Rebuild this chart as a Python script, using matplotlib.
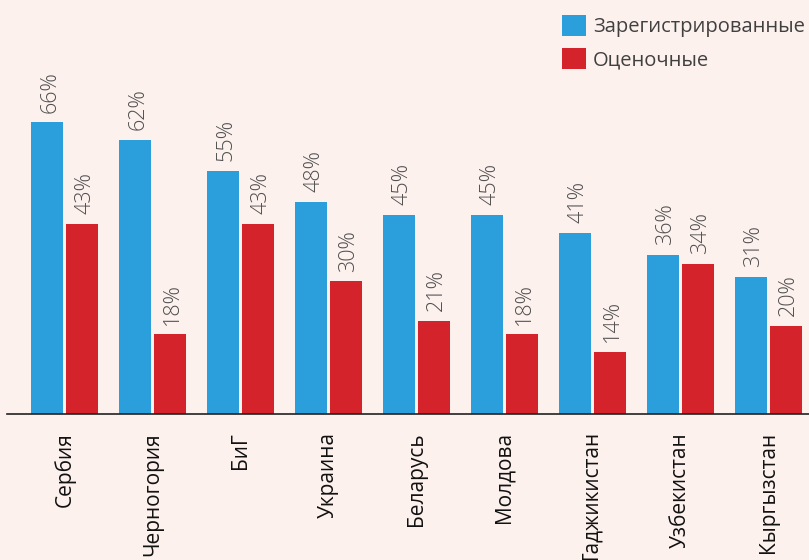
import matplotlib.pyplot as plt
import numpy as np

countries = ['Сербия', 'Черногория', 'БиГ', 'Украина', 'Беларусь',
             'Молдова', 'Таджикистан', 'Узбекистан', 'Кыргызстан']
registered = [66, 62, 55, 48, 45, 45, 41, 36, 31]
estimated = [43, 18, 43, 30, 21, 18, 14, 34, 20]
series_names = ['Зарегистрированные', 'Оценочные']

blue = '#2b9fdb'
red = '#d5232b'
bg = '#fcf1ed'

plt.rcParams['font.family'] = ['Open Sans', 'DejaVu Sans']

fig = plt.figure(figsize=(8.09, 5.60), dpi=100, facecolor=bg)
ax = fig.add_axes([7/809, 146/560, 802/809, 414/560])
ax.set_facecolor(bg)

x = np.arange(len(countries))
w = 32/88
off = 17.5/88
b1 = ax.bar(x - off, registered, w, color=blue, label=series_names[0])
b2 = ax.bar(x + off, estimated, w, color=red, label=series_names[1])

for xs, vals in ((x - off, registered), (x + off, estimated)):
	for xi, v in zip(xs, vals):
		ax.annotate(f'{v}%', (xi, v), xytext=(2, 7), textcoords='offset points',
			rotation=90, ha='center', va='bottom', fontsize=15.5,
			fontweight='light', color='#505050')

ax.set_xlim((7 - 64.5)/88, (809 - 64.5)/88)
ax.set_ylim(0, 414/4.42)
ax.set_xticks(x)
ax.set_xticklabels(countries, rotation=90, fontsize=15, color='#111111')
ax.tick_params(axis='x', length=0, pad=13)
ax.set_yticks([])
for s in ['top', 'right', 'left']:
	ax.spines[s].set_visible(False)
ax.spines['bottom'].set_color('#222222')
ax.spines['bottom'].set_linewidth(1.2)

ax.legend(loc='upper right', bbox_to_anchor=(805/809, 1 - 15/560),
	bbox_transform=fig.transFigure, frameon=False, fontsize=14.5,
	handlelength=1.2, handleheight=1.2, handletextpad=0.35,
	labelspacing=0.55, borderpad=0, borderaxespad=0, labelcolor='#404040')

fig.savefig('out.png', dpi=100, facecolor=bg)
